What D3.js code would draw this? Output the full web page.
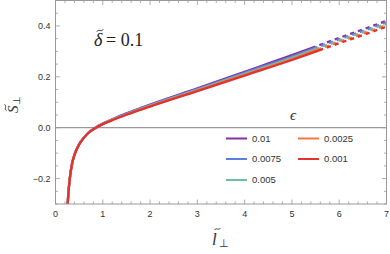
<!DOCTYPE html>
<html><head><meta charset="utf-8">
<script src="https://cdn.jsdelivr.net/npm/d3@7"></script>
<style>body{margin:0;background:#fff}svg{display:block}</style>
</head><body>
<svg id="c" width="390" height="254"></svg>
<script>
// ---- data ----
const lValues = [0.24, 0.27, 0.30, 0.35, 0.40, 0.50, 0.60, 0.70, 0.85, 1.0, 1.25, 1.5, 2, 3, 4, 5, 5.5, 6, 6.5, 7];
const epsLabels = ["0.01", "0.0075", "0.005", "0.0025", "0.001"];
const sEps010  = [-0.36, -0.265, -0.203, -0.142, -0.107, -0.065, -0.039, -0.019, 0.001, 0.016, 0.037, 0.056, 0.091, 0.155, 0.220, 0.285, 0.319, 0.353, 0.386, 0.420];
const sEps0075 = [-0.36, -0.265, -0.203, -0.142, -0.107, -0.065, -0.039, -0.019, 0.000, 0.015, 0.036, 0.055, 0.089, 0.152, 0.216, 0.280, 0.314, 0.347, 0.380, 0.414];
const sEps005  = [-0.36, -0.265, -0.203, -0.142, -0.108, -0.066, -0.040, -0.020, 0.000, 0.015, 0.035, 0.053, 0.087, 0.149, 0.212, 0.275, 0.309, 0.342, 0.375, 0.409];
const sEps0025 = [-0.36, -0.265, -0.203, -0.142, -0.108, -0.066, -0.040, -0.020, -0.001, 0.014, 0.034, 0.052, 0.085, 0.146, 0.208, 0.270, 0.304, 0.337, 0.369, 0.403];
const sEps001  = [-0.36, -0.265, -0.203, -0.142, -0.108, -0.066, -0.040, -0.020, -0.001, 0.014, 0.033, 0.051, 0.083, 0.144, 0.205, 0.266, 0.299, 0.332, 0.364, 0.397];
const solidEnd = [5.50, 5.54, 5.58, 5.62, 5.66];
const colors = ["#8a2ea3", "#5b7fe0", "#6cbf9f", "#f07a3c", "#e23232"];
const xTicks = [0, 1, 2, 3, 4, 5, 6, 7];
const yTicks = [-0.2, 0.0, 0.2, 0.4];

const series = [sEps010, sEps0075, sEps005, sEps0025, sEps001];

// ---- layout ----
const L = 55.5, R = 386.5, T = 0.5, B = 204;
const x = d3.scaleLinear().domain([0, 7]).range([L, R]);
const y = d3.scaleLinear().domain([-0.3, 0.5]).range([B, T]);
const svg = d3.select("#c");
const frameCol = "#999";

svg.append("defs").append("clipPath").attr("id", "plot")
  .append("rect").attr("x", L).attr("y", T).attr("width", R - L).attr("height", B - T);

// zero line
svg.append("line").attr("x1", L).attr("x2", R).attr("y1", y(0)).attr("y2", y(0))
  .attr("stroke", "#9a9a9a").attr("stroke-width", 1.3);

// curves
const line = d3.line().x(d => x(d[0])).y(d => y(d[1])).curve(d3.curveMonotoneX);
const g = svg.append("g").attr("clip-path", "url(#plot)");
series.forEach((vals, i) => {
  const pts = lValues.map((l, k) => [l, vals[k]]);
  const le = solidEnd[i];
  const k = lValues.findIndex(l => l > le);
  const t = (le - lValues[k - 1]) / (lValues[k] - lValues[k - 1]);
  const ve = vals[k - 1] + t * (vals[k] - vals[k - 1]);
  const solid = pts.filter(p => p[0] < le).concat([[le, ve]]);
  const dashed = [[le, ve]].concat(pts.filter(p => p[0] > le));
  g.append("path").attr("d", line(solid)).attr("fill", "none")
    .attr("stroke", colors[i]).attr("stroke-width", 2.3);
  g.append("path").attr("d", line(dashed)).attr("fill", "none")
    .attr("stroke", colors[i]).attr("stroke-width", 2.3)
    .attr("stroke-dasharray", "4.2,4").attr("stroke-dashoffset", 4.2);
});

// frame
svg.append("rect").attr("x", L).attr("y", T).attr("width", R - L).attr("height", B - T)
  .attr("fill", "none").attr("stroke", frameCol).attr("stroke-width", 1);

// ticks
const tg = svg.append("g").attr("stroke", frameCol).attr("stroke-width", 0.8);
const xMinor = d3.range(0, 7.0001, 0.2);
xMinor.forEach(v => {
  const major = Math.abs(v - Math.round(v)) < 1e-6;
  const len = major ? 4.5 : 2.5;
  tg.append("line").attr("x1", x(v)).attr("x2", x(v)).attr("y1", B).attr("y2", B - len);
  tg.append("line").attr("x1", x(v)).attr("x2", x(v)).attr("y1", T).attr("y2", T + len);
});
const yMinor = d3.range(-0.3, 0.5001, 0.05);
yMinor.forEach(v => {
  const major = Math.abs(v * 5 - Math.round(v * 5)) < 1e-6;
  const len = major ? 4.5 : 2.5;
  tg.append("line").attr("y1", y(v)).attr("y2", y(v)).attr("x1", L).attr("x2", L + len);
  tg.append("line").attr("y1", y(v)).attr("y2", y(v)).attr("x1", R).attr("x2", R - len);
});

// tick labels
const lab = svg.append("g").attr("font-family", "Liberation Sans, Arial, sans-serif")
  .attr("font-size", 9).attr("fill", "#333");
xTicks.forEach(v => lab.append("text").attr("x", x(v)).attr("y", 216.5)
  .attr("text-anchor", "middle").text(String(v)));
yTicks.forEach(v => lab.append("text").attr("x", L - 5).attr("y", y(v) + 3.2)
  .attr("text-anchor", "end").text(v < 0 ? "\u2212" + Math.abs(v).toFixed(1) : v.toFixed(1)));

// tilde accent drawn as a small wave
function tilde(sel, cx, cy, w, col) {
  const h = w * 0.22;
  sel.append("path")
    .attr("d", `M${cx - w / 2},${cy + h * 0.6} C${cx - w / 4},${cy - h * 1.6} ${cx + w / 4},${cy + h * 1.6} ${cx + w / 2},${cy - h * 0.6}`)
    .attr("fill", "none").attr("stroke", col).attr("stroke-width", 0.9).attr("stroke-linecap", "round");
}

// annotation
const ser = "Liberation Serif, Times New Roman, serif";
svg.append("text").attr("x", 94).attr("y", 46).attr("font-family", ser)
  .attr("font-size", 18).attr("font-style", "italic").attr("fill", "#222").text("\u03B4");
tilde(svg, 100, 30.5, 6, "#222");
svg.append("text").attr("x", 106).attr("y", 46).attr("font-family", ser)
  .attr("font-size", 18).attr("fill", "#222").text("= 0.1");

// y axis label
const yg = svg.append("g").attr("transform", "translate(18,106) rotate(-90)");
yg.append("text").attr("x", -7).attr("y", 0).attr("font-family", ser).attr("font-style", "italic")
  .attr("font-size", 15).attr("fill", "#333").text("S");
tilde(yg, -1.5, -12.5, 6, "#333");
yg.append("text").attr("x", 1.5).attr("y", 2).attr("font-family", ser)
  .attr("font-size", 10).attr("fill", "#333").text("\u22A5");

// x axis label
svg.append("text").attr("x", 212).attr("y", 245).attr("font-family", ser).attr("font-style", "italic")
  .attr("font-size", 17).attr("fill", "#333").text("l");
tilde(svg, 217.5, 229, 5.5, "#333");
svg.append("text").attr("x", 219).attr("y", 247).attr("font-family", ser)
  .attr("font-size", 11).attr("fill", "#333").text("\u22A5");

// legend
svg.append("text").attr("x", 293).attr("y", 120).attr("text-anchor", "middle")
  .attr("font-family", ser).attr("font-style", "italic").attr("font-size", 15)
  .attr("fill", "#333").text("\u03F5");
const legPos = [[226, 138.5], [226, 159], [226, 180], [298, 138.5], [298, 159]];
epsLabels.forEach((lbl, i) => {
  const [lx, ly] = legPos[i];
  svg.append("line").attr("x1", lx).attr("x2", lx + 21).attr("y1", ly).attr("y2", ly)
    .attr("stroke", colors[i]).attr("stroke-width", 2);
  svg.append("text").attr("x", lx + 26).attr("y", ly + 3.3)
    .attr("font-family", "Liberation Sans, Arial, sans-serif").attr("font-size", 9.5)
    .attr("fill", "#333").text(lbl);
});
</script>
</body></html>
